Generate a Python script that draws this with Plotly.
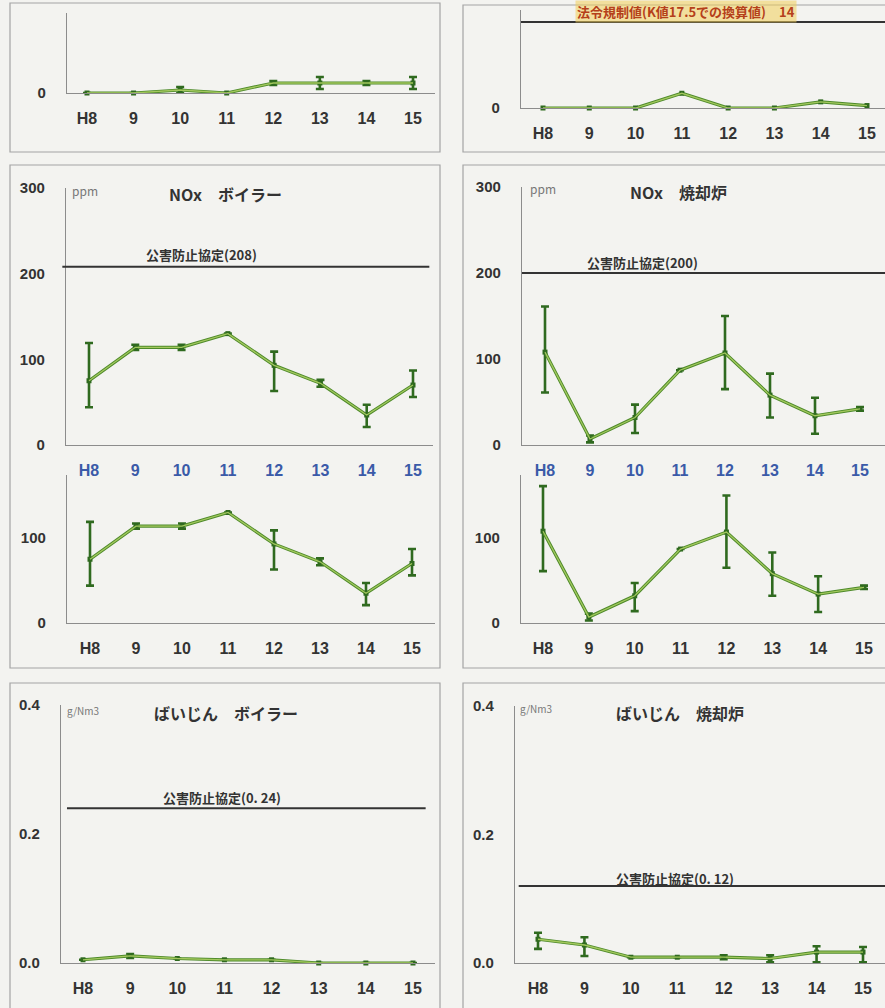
import plotly.graph_objects as go

W, H = 885, 1008

years = ["H8", "9", "10", "11", "12", "13", "14", "15"]
xi = list(range(len(years)))

# top-left partial panel (unit unknown, upper part cut off)
tl_mean = [0, 0, 3, 0, 10, 10, 10, 10]
tl_err_p = [None, None, 3, None, 2, 6, 2, 6]
tl_err_m = [None, None, 3, None, 2, 6, 2, 6]

# top-right partial panel (limit 14)
tr_mean = [0, 0, 0, 2.4, 0, 0, 1.0, 0.4]
tr_limit = 14

# NOx boiler (ppm)
nox_b_mean = [75, 114, 114, 130, 93, 72, 35, 70]
nox_b_err_p = [44, 3, 3, None, 16, 4, 12, 17]
nox_b_err_m = [31, 3, 3, None, 30, 4, 14, 14]
nox_b_limit = 208

# NOx incinerator (ppm)
nox_i_mean = [108, 7, 32, 87, 107, 58, 34, 42]
nox_i_err_p = [53, 4, 15, None, 43, 25, 21, 2]
nox_i_err_m = [47, 4, 18, None, 42, 26, 21, 2]
nox_i_limit = 200

# dust boiler (g/Nm3)
dust_b_mean = [0.005, 0.011, 0.007, 0.005, 0.005, 0.0, 0.0, 0.0]
dust_b_err_p = [None, 0.003, None, None, None, None, None, None]
dust_b_err_m = [None, 0.003, None, None, None, None, None, None]
dust_b_limit = 0.24

# dust incinerator (g/Nm3)
dust_i_mean = [0.037, 0.028, 0.009, 0.009, 0.009, 0.007, 0.017, 0.017]
dust_i_err_p = [0.010, 0.012, None, None, 0.003, 0.005, 0.009, 0.008]
dust_i_err_m = [0.015, 0.017, None, None, 0.003, 0.006, 0.016, 0.016]
dust_i_limit = 0.12


def fx(p):
    return p / W


def fy(p):
    return 1 - p / H


DARK = "#2f6a1f"
LIGHT = "#a3c85e"
TXT = "#333333"
BLUE = "#3a5aa8"
FONT = "Liberation Sans, Arial, sans-serif"
JFONT = "Noto Sans CJK JP, sans-serif"

bold_years = [f"<b>{y}</b>" for y in years]

# panel geometry (pixels)
panels = [
    dict(ax=67, x0=87, x7=413, xend=435, yzero=93, ytop=13, rpx=83, rval=10,
         yt=[0], ytt=["0"], xcol=TXT, mean=tl_mean, ep=tl_err_p, em=tl_err_m),
    dict(ax=521, x0=543, x7=867, xend=885, yzero=108, ytop=10, rpx=22, rval=14,
         yt=[0], ytt=["0"], xcol=TXT, mean=tr_mean, ep=None, em=None),
    dict(ax=66, x0=89, x7=413, xend=433, yzero=445, ytop=188, rpx=188, rval=300,
         yt=[0, 100, 200, 300], ytt=["0", "100", "200", "300"], xcol=BLUE,
         mean=nox_b_mean, ep=nox_b_err_p, em=nox_b_err_m),
    dict(ax=522, x0=545, x7=860, xend=885, yzero=445, ytop=187, rpx=187, rval=300,
         yt=[0, 100, 200, 300], ytt=["0", "100", "200", "300"], xcol=BLUE,
         mean=nox_i_mean, ep=nox_i_err_p, em=nox_i_err_m),
    dict(ax=67, x0=90, x7=412, xend=435, yzero=623, ytop=475, rpx=538, rval=100,
         yt=[0, 100], ytt=["0", "100"], xcol=TXT,
         mean=nox_b_mean, ep=nox_b_err_p, em=nox_b_err_m),
    dict(ax=521, x0=543, x7=864, xend=885, yzero=623, ytop=475, rpx=538, rval=100,
         yt=[0, 100], ytt=["0", "100"], xcol=TXT,
         mean=nox_i_mean, ep=nox_i_err_p, em=nox_i_err_m),
    dict(ax=61, x0=83, x7=413, xend=435, yzero=963, ytop=705, rpx=705, rval=0.4,
         yt=[0, 0.2, 0.4], ytt=["0.0", "0.2", "0.4"], xcol=TXT,
         mean=dust_b_mean, ep=dust_b_err_p, em=dust_b_err_m),
    dict(ax=515, x0=538, x7=863, xend=885, yzero=963, ytop=706, rpx=706, rval=0.4,
         yt=[0, 0.2, 0.4], ytt=["0.0", "0.2", "0.4"], xcol=TXT,
         mean=dust_i_mean, ep=dust_i_err_p, em=dust_i_err_m),
]

fig = go.Figure()
layout = dict(
    width=W, height=H, autosize=False,
    margin=dict(l=0, r=0, t=0, b=0, pad=0, autoexpand=False),
    paper_bgcolor="#f3f3f0", plot_bgcolor="rgba(0,0,0,0)",
    showlegend=False,
    font=dict(family=FONT, color=TXT),
)

for i, p in enumerate(panels, start=1):
    sp = (p["x7"] - p["x0"]) / 7
    xr = [-(p["x0"] - p["ax"]) / sp, 7 + (p["xend"] - p["x7"]) / sp]
    k = (p["yzero"] - p["rpx"]) / p["rval"]
    yr = [0, (p["yzero"] - p["ytop"]) / k]
    xa = "x" if i == 1 else f"x{i}"
    ya = "y" if i == 1 else f"y{i}"
    layout["xaxis" if i == 1 else f"xaxis{i}"] = dict(
        domain=[fx(p["ax"]), fx(p["xend"])], range=xr, anchor=ya,
        automargin=False,
        showgrid=False, zeroline=False, showline=True, linecolor="#8c8c8c",
        linewidth=1.2, tickmode="array", tickvals=xi, ticktext=bold_years,
        ticks="", ticklabelstandoff=11,
        tickfont=dict(size=16, color=p["xcol"], family=FONT),
        fixedrange=True,
    )
    layout["yaxis" if i == 1 else f"yaxis{i}"] = dict(
        domain=[fy(p["yzero"]), fy(p["ytop"])], range=yr, anchor=xa,
        automargin=False,
        showgrid=False, zeroline=False, showline=True, linecolor="#8c8c8c",
        linewidth=1.2, tickmode="array", tickvals=p["yt"],
        ticktext=[f"<b>{t}</b>" for t in p["ytt"]],
        ticks="", ticklabelstandoff=17,
        tickfont=dict(size=15, color=TXT, family=FONT),
        fixedrange=True,
    )
    err = None
    if p["ep"] is not None:
        err = dict(type="data", symmetric=False, array=p["ep"],
                   arrayminus=p["em"], color=DARK, thickness=2.6, width=4)
    fig.add_trace(go.Scatter(
        x=xi, y=p["mean"], xaxis=xa, yaxis=ya, mode="lines+markers",
        line=dict(color="#4d8a2a", width=3.2),
        marker=dict(symbol="square", size=5, color=DARK),
        error_y=err, cliponaxis=False, hoverinfo="skip",
    ))
    fig.add_trace(go.Scatter(
        x=xi, y=p["mean"], xaxis=xa, yaxis=ya, mode="lines",
        line=dict(color=LIGHT, width=1.3), cliponaxis=False, hoverinfo="skip",
    ))

# panel boxes
boxes = [
    (10, 3, 440, 152), (463, 5, 900, 152),
    (10, 165, 440, 668), (463, 165, 900, 668),
    (10, 683, 440, 1020), (463, 683, 900, 1020),
]
shapes = []
for (a, b, c, d) in boxes:
    shapes.append(dict(type="rect", xref="paper", yref="paper",
                       x0=fx(a), x1=fx(c), y0=fy(d), y1=fy(b),
                       line=dict(color="#a4a4a4", width=1.2), layer="below"))

# limit lines
limits = [(2, tr_limit, 0.0, 1.0), (3, nox_b_limit, -0.01, 0.99),
          (4, nox_i_limit, 0.0, 1.0), (7, dust_b_limit, 0.016, 0.975),
          (8, dust_i_limit, 0.01, 1.0)]
for (i, v, a, b) in limits:
    shapes.append(dict(type="line", xref=f"x{i} domain", yref=f"y{i}",
                       x0=a, x1=b, y0=v, y1=v,
                       line=dict(color="#333333", width=2)))
layout["shapes"] = shapes

ann = []
def note(text, x, y, size, color=TXT, xanchor="center", bg=None):
    d = dict(text=text, x=fx(x), y=fy(y), xref="paper", yref="paper",
             showarrow=False, xanchor=xanchor, yanchor="middle",
             font=dict(size=size, color=color, family=JFONT))
    if bg:
        d["bgcolor"] = bg
    ann.append(d)

note("<b>法令規制値(K値17.5での換算値)　14</b>", 686, 12, 13, color="#b5401a",
     bg="rgba(240,205,90,0.55)")
note("<b>NOx　ボイラー</b>", 225, 194, 16)
note("<b>NOx　焼却炉</b>", 678, 192, 16)
note("ppm", 70, 190, 12, color="#777", xanchor="left")
note("ppm", 528, 188, 12, color="#777", xanchor="left")
note("<b>公害防止協定(208)</b>", 201, 254, 13)
note("<b>公害防止協定(200)</b>", 642, 263, 13)
note("<b>ばいじん　ボイラー</b>", 226, 713, 16)
note("<b>ばいじん　焼却炉</b>", 680, 713, 16)
note("g/Nm3", 65, 710, 10, color="#777", xanchor="left")
note("g/Nm3", 518, 708, 10, color="#777", xanchor="left")
note("<b>公害防止協定(0. 24)</b>", 222, 797, 13)
note("<b>公害防止協定(0. 12)</b>", 675, 878, 13)
layout["annotations"] = ann

fig.update_layout(**layout)
fig.write_html("out.html")
